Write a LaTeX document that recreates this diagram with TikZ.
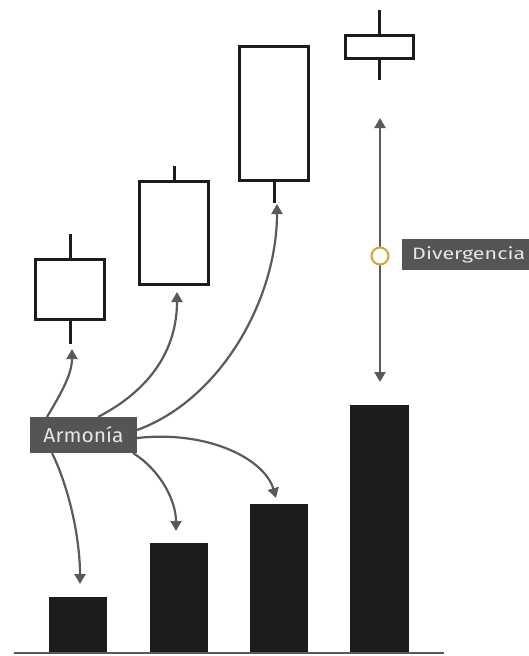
\documentclass[tikz,border=0pt]{standalone}
\usepackage{fontspec}
\setmainfont{Fira Sans}
\newfontfamily\armfont[FakeStretch=1.05]{Fira Sans}
\newfontfamily\divfont[FakeStretch=1.3]{Fira Sans}
\usetikzlibrary{arrows.meta}
\definecolor{ink}{HTML}{1E1B1C}
\definecolor{wire}{HTML}{5A5A5A}
\definecolor{tagbg}{HTML}{555555}
\definecolor{tagtx}{HTML}{E6E6E6}
\definecolor{ring}{HTML}{D9A032}
\tikzset{
  candle/.style={draw=ink, line width=3pt, fill=white},
  wick/.style={draw=ink, line width=3pt},
  volbar/.style={fill=ink, draw=none},
  tip/.tip={Triangle[length=10pt,width=11pt]},
  link/.style={draw=wire, line width=2.2pt, -tip},
  tag/.style={fill=tagbg, text=tagtx, inner sep=0pt},
}
\begin{document}
\begin{tikzpicture}[x=1pt, y=-1pt]
\useasboundingbox (0,0) rectangle (529,656);

% candles: wick then body
\draw[wick] (70,234) -- (70,344);
\draw[candle] (35,259) rectangle (104,319);
\draw[wick] (174,166) -- (174,181);
\draw[candle] (139,181) rectangle (208,284);
\draw[wick] (274,180) -- (274,203);
\draw[candle] (239,46) rectangle (308,180);
\draw[wick] (379,10) -- (379,80);
\draw[candle] (345,35) rectangle (413,58);

% volume bars and base line
\fill[volbar] (49,597) rectangle (107,653);
\fill[volbar] (150,543) rectangle (208,653);
\fill[volbar] (250,504) rectangle (308,653);
\fill[volbar] (350,405) rectangle (409,653);
\draw[wire, line width=1.5pt] (14,653) -- (444,653);

% arrow targets
\coordinate (c1) at (72,349);
\coordinate (c2) at (177,292);
\coordinate (c3) at (277,204);
\coordinate (b1) at (80,584);
\coordinate (b2) at (176,531);
\coordinate (b3) at (276,498);
\coordinate (dtop) at (380,118);
\coordinate (dbot) at (380,382);

% labels (the right tag runs off the page edge)
\node[tag, minimum width=107pt, minimum height=36pt, font=\armfont\fontsize{20}{20}\selectfont] (arm) at (83.5,435) {Armonía};
\node[tag, anchor=west, minimum height=31pt, inner xsep=10pt, font=\divfont\fontsize{16.5}{16.5}\selectfont] (div) at (402,254.5) {Divergencia\hspace*{8pt}};

% divergence axis
\draw[link, tip-tip] (dtop) -- (dbot);
\node[circle, draw=ring, line width=2pt, fill=white, minimum size=17pt, inner sep=0pt] (ring) at (380,256) {};

% harmony arrows
\draw[link] (47,417) .. controls (60,395) and (72,375) .. (c1);
\draw[link] (98,417) .. controls (150,390) and (177,350) .. (c2);
\draw[link] (137,430) .. controls (220,400) and (277,300) .. (c3);
\draw[link] (52,453) .. controls (70,490) and (80,540) .. (b1);
\draw[link] (133,453) .. controls (160,470) and (176,500) .. (b2);
\draw[link] (137,438) .. controls (210,430) and (265,460) .. (b3);

\end{tikzpicture}
\end{document}
